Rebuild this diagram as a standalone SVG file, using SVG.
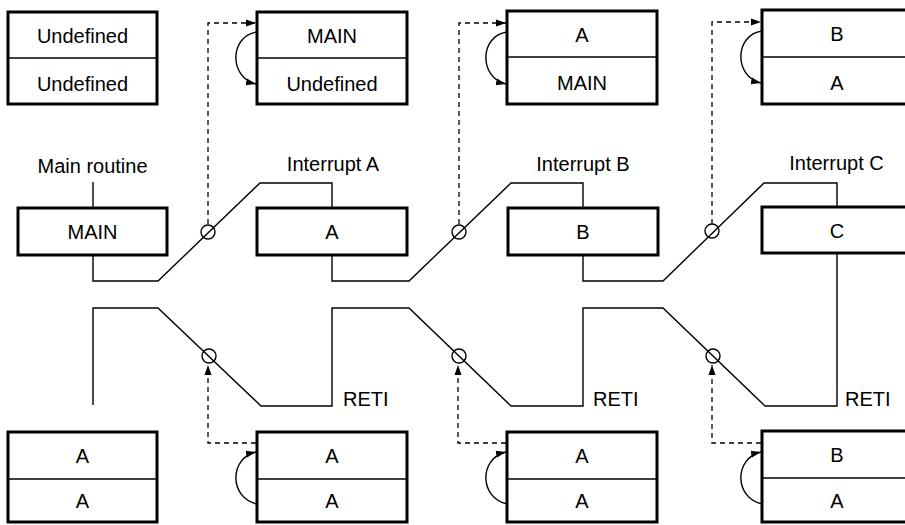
<svg xmlns="http://www.w3.org/2000/svg" width="905" height="525" viewBox="0 0 905 525">
<style>
.box{fill:#fff;stroke:#000;stroke-width:3}
.div{stroke:#000;stroke-width:1.4}
.t{font-family:"Liberation Sans",Arial,sans-serif;font-size:20px;fill:#000;text-anchor:middle}
.ts{font-family:"Liberation Sans",Arial,sans-serif;font-size:20px;fill:#000}
.ln{fill:none;stroke:#000;stroke-width:1.4}
.ds{fill:none;stroke:#000;stroke-width:1.3;stroke-dasharray:5,4}
.cir{fill:none;stroke:#000;stroke-width:1.4}
</style>
<defs>
<marker id="arr" markerUnits="userSpaceOnUse" markerWidth="11" markerHeight="8" refX="10" refY="4" orient="auto">
<path d="M0,0.5 L10,4 L0,7.5 z" fill="#000"/>
</marker>
</defs>
<rect width="905" height="525" fill="#fff"/>

<g id="connectors">
<path class="ln" d="M93,182 V208"/>
<path class="ln" d="M93,255 V281 H158 L260,183 H332 V208"/>
<path class="ln" d="M332,255 V281 H409 L511,183 H583 V208"/>
<path class="ln" d="M583,255 V281 H663 L764,183 H837 V207"/>
<path class="ln" d="M93,405 V308 H158 L261,406 H332 V308 H409 L511,406 H583 V308 H663 L765,406 H837 V253"/>
<path class="ds" d="M208,224 V23 H256" marker-end="url(#arr)"/>
<path class="ds" d="M459,224 V23 H506" marker-end="url(#arr)"/>
<path class="ds" d="M712,224 V22 H761" marker-end="url(#arr)"/>
<path class="ds" d="M256,443 H208 V365" marker-end="url(#arr)"/>
<path class="ds" d="M506,443 H458 V365" marker-end="url(#arr)"/>
<path class="ds" d="M761,443 H712 V365" marker-end="url(#arr)"/>
<path class="ln" d="M257,32 C229,36 229,78 256,84" marker-end="url(#arr)"/>
<path class="ln" d="M507,32 C479,36 479,78 506,84" marker-end="url(#arr)"/>
<path class="ln" d="M762,31 C734,35 734,77 761,83" marker-end="url(#arr)"/>
<path class="ln" d="M257,504 C229,498 229,458 256,452" marker-end="url(#arr)"/>
<path class="ln" d="M507,504 C479,498 479,458 506,452" marker-end="url(#arr)"/>
<path class="ln" d="M762,504 C734,498 734,458 761,452" marker-end="url(#arr)"/>
<circle class="cir" cx="208" cy="232" r="7"/>
<circle class="cir" cx="459" cy="232" r="7"/>
<circle class="cir" cx="712" cy="231" r="7"/>
<circle class="cir" cx="209" cy="356" r="7"/>
<circle class="cir" cx="459" cy="356" r="7"/>
<circle class="cir" cx="713" cy="356" r="7"/>
</g>

<g id="top1"><rect class="box" x="8" y="12" width="149" height="92"/><line class="div" x1="8" y1="58" x2="157" y2="58"/><text class="t" x="82.5" y="43">Undefined</text><text class="t" x="82.5" y="91">Undefined</text></g>
<g id="top2"><rect class="box" x="257" y="12" width="150" height="92"/><line class="div" x1="257" y1="58" x2="407" y2="58"/><text class="t" x="332" y="43">MAIN</text><text class="t" x="332" y="91">Undefined</text></g>
<g id="top3"><rect class="box" x="507" y="11" width="150" height="93"/><line class="div" x1="507" y1="57" x2="657" y2="57"/><text class="t" x="582" y="42">A</text><text class="t" x="582" y="90">MAIN</text></g>
<g id="top4"><rect class="box" x="762" y="10" width="150" height="94"/><line class="div" x1="762" y1="57" x2="912" y2="57"/><text class="t" x="837" y="41">B</text><text class="t" x="837" y="90">A</text></g>

<g id="main"><text class="t" x="92.5" y="173">Main routine</text><rect class="box" x="18" y="208" width="149" height="47"/><text class="t" x="92.5" y="239">MAIN</text></g>
<g id="intA"><text class="t" x="333" y="171">Interrupt A</text><rect class="box" x="257" y="208" width="150" height="47"/><text class="t" x="332" y="239">A</text></g>
<g id="intB"><text class="t" x="583" y="171">Interrupt B</text><rect class="box" x="508" y="208" width="150" height="47"/><text class="t" x="583" y="239">B</text></g>
<g id="intC"><text class="t" x="836.5" y="170">Interrupt C</text><rect class="box" x="762" y="207" width="150" height="46"/><text class="t" x="837" y="238">C</text></g>

<g id="reti1"><text class="ts" x="343" y="406">RETI</text></g>
<g id="reti2"><text class="ts" x="593" y="406">RETI</text></g>
<g id="reti3"><text class="ts" x="845" y="406">RETI</text></g>

<g id="bot1"><rect class="box" x="8" y="432" width="149" height="90"/><line class="div" x1="8" y1="479" x2="157" y2="479"/><text class="t" x="82.5" y="463">A</text><text class="t" x="82.5" y="508">A</text></g>
<g id="bot2"><rect class="box" x="257" y="432" width="150" height="90"/><line class="div" x1="257" y1="479" x2="407" y2="479"/><text class="t" x="332" y="463">A</text><text class="t" x="332" y="508">A</text></g>
<g id="bot3"><rect class="box" x="507" y="432" width="150" height="90"/><line class="div" x1="507" y1="479" x2="657" y2="479"/><text class="t" x="582" y="463">A</text><text class="t" x="582" y="508">A</text></g>
<g id="bot4"><rect class="box" x="762" y="431" width="150" height="91"/><line class="div" x1="762" y1="478" x2="912" y2="478"/><text class="t" x="837" y="462">B</text><text class="t" x="837" y="508">A</text></g>
</svg>
